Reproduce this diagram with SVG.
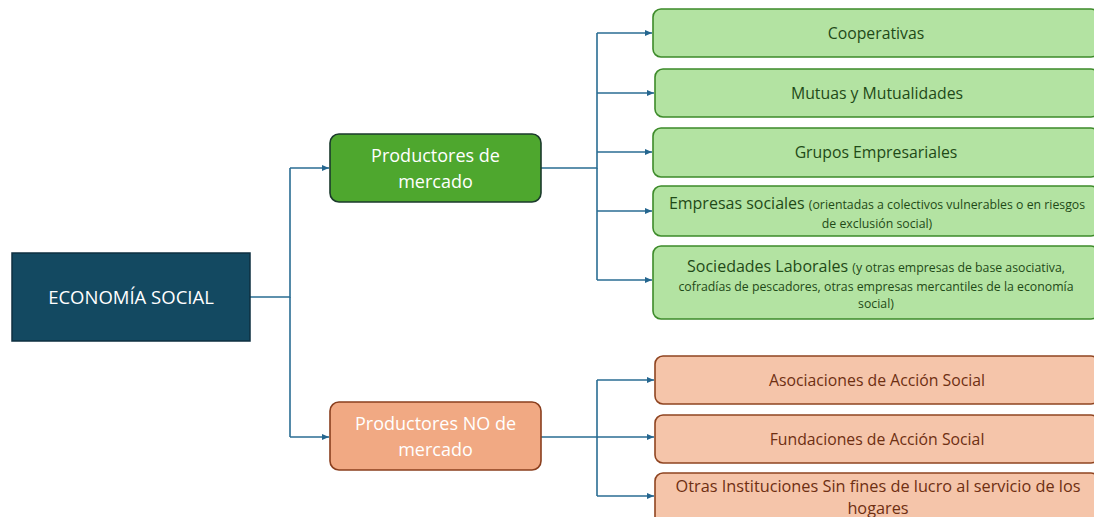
<svg xmlns="http://www.w3.org/2000/svg" width="1094" height="517" viewBox="0 0 1094 517">
<defs>
<marker id="ah" markerWidth="8" markerHeight="8" refX="7" refY="4" orient="auto" markerUnits="userSpaceOnUse">
<path d="M0,1 L7,4 L0,7 z" fill="#25668f"/>
</marker>
<style>
.c{fill:none;stroke:#2a6d93;stroke-width:1.6}
.a{marker-end:url(#ah)}
.g{fill:#b3e3a2;stroke:#3d8b2a;stroke-width:1.6}
.o{fill:#f5c5aa;stroke:#8f4420;stroke-width:1.6}
text{font-family:"Open Sans","Liberation Sans",sans-serif;text-anchor:middle}
.gt{fill:#1f4a17}
.ot{fill:#6e2f12}
.w{fill:#ffffff}
</style>
</defs>
<rect width="1094" height="517" fill="#ffffff"/>
<g id="connectors">
<path class="c" d="M250,297 H290 V168"/>
<path class="c a" d="M290,168 H329"/>
<path class="c" d="M290,297 V437"/>
<path class="c a" d="M290,437 H329"/>
<path class="c" d="M541,168 H597 V33"/>
<path class="c a" d="M597,33 H652"/>
<path class="c a" d="M597,93 H654"/>
<path class="c a" d="M597,152 H652"/>
<path class="c a" d="M597,211 H652"/>
<path class="c" d="M597,168 V280"/>
<path class="c a" d="M597,280 H652"/>
<path class="c" d="M541,437 H597 V380"/>
<path class="c a" d="M597,380 H654"/>
<path class="c a" d="M597,437 H654"/>
<path class="c" d="M597,437 V496"/>
<path class="c a" d="M597,496 H654"/>
</g>
<g id="root">
<rect x="12" y="253" width="238" height="88" fill="#134961" stroke="#0e2f40" stroke-width="1.5"/>
<text class="w" x="131" y="304" font-size="18.5">ECONOMÍA SOCIAL</text>
</g>
<g id="mercado">
<rect x="330" y="134" width="211" height="68" rx="9" fill="#4ea72e" stroke="#1b3a2c" stroke-width="1.6"/>
<text class="w" x="435.5" y="162" font-size="18">Productores de</text>
<text class="w" x="435.5" y="188" font-size="18">mercado</text>
</g>
<g id="nomercado">
<rect x="330" y="402" width="211" height="68" rx="9" fill="#f1a983" stroke="#8a3f1e" stroke-width="1.6"/>
<text class="w" x="435.5" y="430" font-size="18">Productores NO de</text>
<text class="w" x="435.5" y="456" font-size="18">mercado</text>
</g>
<g id="cooperativas">
<rect class="g" x="653" y="9" width="446" height="48" rx="8"/>
<text class="gt" x="876" y="39" font-size="15.8">Cooperativas</text>
</g>
<g id="mutuas">
<rect class="g" x="655" y="69" width="444" height="48" rx="8"/>
<text class="gt" x="877" y="99" font-size="15.8">Mutuas y Mutualidades</text>
</g>
<g id="grupos">
<rect class="g" x="653" y="128" width="446" height="49" rx="8"/>
<text class="gt" x="876" y="158" font-size="15.8">Grupos Empresariales</text>
</g>
<g id="empresas">
<rect class="g" x="653" y="186" width="446" height="50" rx="8"/>
<text class="gt" x="877" y="209"><tspan font-size="16">Empresas sociales </tspan><tspan font-size="12.3">(orientadas a colectivos vulnerables o en riesgos</tspan></text>
<text class="gt" x="877" y="228" font-size="12.3">de exclusión social)</text>
</g>
<g id="sociedades">
<rect class="g" x="653" y="246" width="446" height="73" rx="8"/>
<text class="gt" x="876" y="272"><tspan font-size="16">Sociedades Laborales </tspan><tspan font-size="12.3">(y otras empresas de base asociativa,</tspan></text>
<text class="gt" x="876" y="291" font-size="12.3">cofradías de pescadores, otras empresas mercantiles de la economía</text>
<text class="gt" x="876" y="308" font-size="12.3">social)</text>
</g>
<g id="asociaciones">
<rect class="o" x="655" y="356" width="444" height="48" rx="8"/>
<text class="ot" x="877" y="386" font-size="15.8">Asociaciones de Acción Social</text>
</g>
<g id="fundaciones">
<rect class="o" x="655" y="415" width="444" height="48" rx="8"/>
<text class="ot" x="877" y="445" font-size="15.8">Fundaciones de Acción Social</text>
</g>
<g id="otras">
<rect class="o" x="655" y="473" width="444" height="60" rx="8"/>
<text class="ot" x="878" y="492" font-size="16.3">Otras Instituciones Sin fines de lucro al servicio de los</text>
<text class="ot" x="878" y="514" font-size="16.3">hogares</text>
</g>
</svg>
